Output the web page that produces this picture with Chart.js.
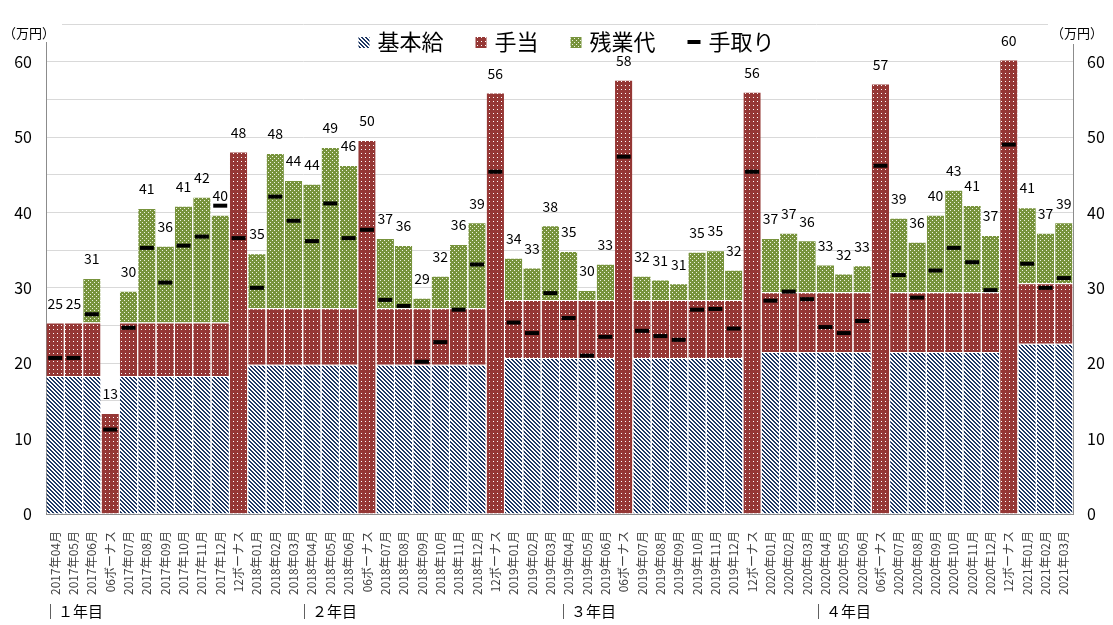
<!DOCTYPE html>
<html>
<head>
<meta charset="utf-8">
<script src="https://cdn.jsdelivr.net/npm/chart.js@4.4.0/dist/chart.umd.min.js"></script>
<style>
  html, body { margin: 0; background: #fff; }
</style>
</head>
<body>
<canvas id="salaryChart" width="1113" height="625"></canvas>
<script>
// month / bonus categories
const categories = [
  '2017年04月','2017年05月','2017年06月','06ボーナス','2017年07月','2017年08月','2017年09月','2017年10月','2017年11月','2017年12月','12ボーナス',
  '2018年01月','2018年02月','2018年03月','2018年04月','2018年05月','2018年06月','06ボーナス','2018年07月','2018年08月','2018年09月','2018年10月','2018年11月','2018年12月','12ボーナス',
  '2019年01月','2019年02月','2019年03月','2019年04月','2019年05月','2019年06月','06ボーナス','2019年07月','2019年08月','2019年09月','2019年10月','2019年11月','2019年12月','12ボーナス',
  '2020年01月','2020年02月','2020年03月','2020年04月','2020年05月','2020年06月','06ボーナス','2020年07月','2020年08月','2020年09月','2020年10月','2020年11月','2020年12月','12ボーナス',
  '2021年01月','2021年02月','2021年03月'
];

// 基本給 (null = bonus row)
const basicPay = [
  18.3,18.3,18.3,null,18.3,18.3,18.3,18.3,18.3,18.3,null,
  19.8,19.8,19.8,19.8,19.8,19.8,null,19.8,19.8,19.8,19.8,19.8,19.8,null,
  20.7,20.7,20.7,20.7,20.7,20.7,null,20.7,20.7,20.7,20.7,20.7,20.7,null,
  21.5,21.5,21.5,21.5,21.5,21.5,null,21.5,21.5,21.5,21.5,21.5,21.5,null,
  22.6,22.6,22.6
];

// 手当 (bonus amount goes here too)
const allowance = [
  7.1,7.1,7.1,13.4,7.1,7.1,7.1,7.1,7.1,7.1,48.1,
  7.5,7.5,7.5,7.5,7.5,7.5,49.6,7.5,7.5,7.5,7.5,7.5,7.5,55.9,
  7.7,7.7,7.7,7.7,7.7,7.7,57.6,7.7,7.7,7.7,7.7,7.7,7.7,56.0,
  7.9,7.9,7.9,7.9,7.9,7.9,57.1,7.9,7.9,7.9,7.9,7.9,7.9,60.3,
  8.0,8.0,8.0
];

// 残業代
const overtime = [
  0,0,5.9,null,4.2,15.2,10.2,15.5,16.7,14.3,null,
  7.3,20.6,17.0,16.5,21.4,19.0,null,9.3,8.4,1.4,4.3,8.5,11.4,null,
  5.6,4.3,9.9,6.5,1.3,4.8,null,3.2,2.7,2.2,6.4,6.6,4.0,null,
  7.2,7.9,6.9,3.7,2.5,3.6,null,9.9,6.7,10.3,13.6,11.6,7.6,null,
  10.1,6.7,8.1
];

// 手取り
const takeHome = [
  20.7,20.7,26.5,11.2,24.7,35.3,30.7,35.6,36.8,40.9,36.6,
  30.0,42.1,38.9,36.2,41.2,36.6,37.7,28.4,27.6,20.2,22.8,27.1,33.1,45.4,
  25.4,24.0,29.3,26.0,21.0,23.5,47.4,24.3,23.6,23.1,27.1,27.2,24.6,45.4,
  28.3,29.5,28.5,24.8,24.0,25.6,46.2,31.7,28.7,32.3,35.3,33.4,29.7,49.0,
  33.2,30.0,31.3
];

const yearLabels = ['｜１年目', '｜２年目', '｜３年目', '｜４年目'];
const yearLabelX = [43, 297, 556, 811];

const totals = categories.map((_, i) =>
  Math.round(((basicPay[i] || 0) + (allowance[i] || 0) + (overtime[i] || 0)) * 10) / 10);

const FONT = '"Noto Sans CJK JP", "Noto Sans", sans-serif';
Chart.defaults.font.family = FONT;

function makePattern(paint) {
  const c = document.createElement('canvas');
  c.width = 4; c.height = 4;
  const g = c.getContext('2d');
  paint(g);
  return g.createPattern(c, 'repeat');
}

const bluePattern = makePattern(g => {
  g.fillStyle = '#ffffff';
  g.fillRect(0, 0, 4, 4);
  g.fillStyle = '#1f3864';
  for (let x = 0; x < 4; x++) {
    for (let y = 0; y < 4; y++) {
      if ((x - y + 8) % 4 < 2) g.fillRect(x, y, 1, 1);
    }
  }
});
const redPattern = makePattern(g => {
  g.fillStyle = '#953735';
  g.fillRect(0, 0, 4, 4);
  g.fillStyle = '#ffffff';
  g.fillRect(1, 1, 1, 1);
});
const greenPattern = makePattern(g => {
  g.fillStyle = '#77933c';
  g.fillRect(0, 0, 4, 4);
  g.fillStyle = '#eef3e0';
  g.fillRect(0, 0, 1, 1);
  g.fillRect(2, 2, 1, 1);
});

// totals above bars, legend, unit titles, year marks
const overlayPlugin = {
  id: 'overlay',
  afterDraw(chart) {
    const ctx = chart.ctx;
    const x = chart.scales.x;
    const y = chart.scales.y;
    const area = chart.chartArea;
    ctx.save();

    // total labels
    ctx.font = '14px ' + FONT;
    ctx.fillStyle = '#000';
    ctx.textAlign = 'center';
    ctx.textBaseline = 'middle';
    totals.forEach((t, i) => {
      ctx.fillText(String(Math.round(t)), x.getPixelForValue(i), y.getPixelForValue(t) - 19);
    });

    // unit titles (white box hides the axis top like the original)
    ctx.fillStyle = '#fff';
    ctx.fillRect(0, 14, 62, 28);
    ctx.fillRect(area.right - 25, 14, chart.width - area.right + 25, 30);
    ctx.fillStyle = '#000';
    ctx.font = '13px ' + FONT;
    ctx.textAlign = 'left';
    ctx.fillText('（万円）', 3, 33);
    ctx.fillText('（万円）', area.right - 22, 33);

    // legend
    const items = chart.data.datasets.map(ds => ({ label: ds.label, fill: ds.backgroundColor, line: ds.type === 'line' }));
    ctx.font = '22px ' + FONT;
    const gapSw = 8, gapItem = 32, sw = 11;
    let total = 0;
    items.forEach((it, k) => {
      it.w = ctx.measureText(it.label).width;
      total += (it.line ? 13 : sw) + gapSw + it.w + (k < items.length - 1 ? gapItem : 0);
    });
    let lx = (area.left + area.right) / 2 + 7 - total / 2;
    const ly = 42;
    items.forEach(it => {
      if (it.line) {
        ctx.fillStyle = '#000';
        ctx.fillRect(lx, ly - 2, 13, 4);
        lx += 13;
      } else {
        ctx.fillStyle = it.fill;
        ctx.fillRect(lx, ly - 5, sw, sw);
        lx += sw;
      }
      lx += gapSw;
      ctx.fillStyle = '#000';
      ctx.fillText(it.label, lx, ly);
      lx += it.w + gapItem;
    });

    // year marks under the axis
    ctx.font = '15px ' + FONT;
    ctx.fillStyle = '#000';
    yearLabels.forEach((t, k) => ctx.fillText(t, yearLabelX[k], 611));

    ctx.restore();
  }
};

const yTicks = {
  stepSize: 5,
  color: '#000',
  padding: 14,
  font: { size: 16 },
  callback: v => (v % 10 === 0 ? v : '')
};

new Chart(document.getElementById('salaryChart'), {
  type: 'bar',
  data: {
    labels: categories,
    datasets: [
      { label: '基本給', data: basicPay, backgroundColor: bluePattern, order: 1 },
      { label: '手当', data: allowance, backgroundColor: redPattern, order: 1 },
      { label: '残業代', data: overtime, backgroundColor: greenPattern, order: 1 },
      {
        type: 'line', label: '手取り', data: takeHome, showLine: false, order: 0,
        pointStyle: 'line', pointRadius: 7, pointBorderWidth: 4,
        pointBorderColor: '#000', pointBackgroundColor: '#000', borderColor: '#000'
      }
    ]
  },
  options: {
    responsive: false,
    animation: false,
    events: [],
    layout: { padding: { top: 24, left: 0, right: 0, bottom: 0 } },
    datasets: {
      bar: {
        categoryPercentage: 1,
        barPercentage: 0.945,
        borderColor: '#ffffff',
        borderWidth: { top: 1, left: 0, right: 0, bottom: 0 },
        borderSkipped: 'start'
      }
    },
    plugins: {
      legend: { display: false },
      tooltip: { enabled: false }
    },
    scales: {
      x: {
        stacked: true,
        grid: { display: false },
        border: { color: '#8c8c8c' },
        ticks: {
          autoSkip: false, maxRotation: 90, minRotation: 90,
          padding: 9, color: '#404040', font: { size: 12 }
        },
        afterFit: s => { s.height = 111; }
      },
      y: {
        stacked: true,
        min: 0, max: 65,
        ticks: yTicks,
        grid: { color: '#d9d9d9', drawTicks: false },
        border: { color: '#8c8c8c' },
        afterFit: s => { s.width = 46; }
      },
      y2: {
        position: 'right',
        display: true,
        min: 0, max: 65,
        ticks: yTicks,
        grid: { drawOnChartArea: false, drawTicks: false },
        border: { color: '#8c8c8c' },
        afterFit: s => { s.width = 40; }
      }
    }
  },
  plugins: [overlayPlugin]
});
</script>
</body>
</html>
